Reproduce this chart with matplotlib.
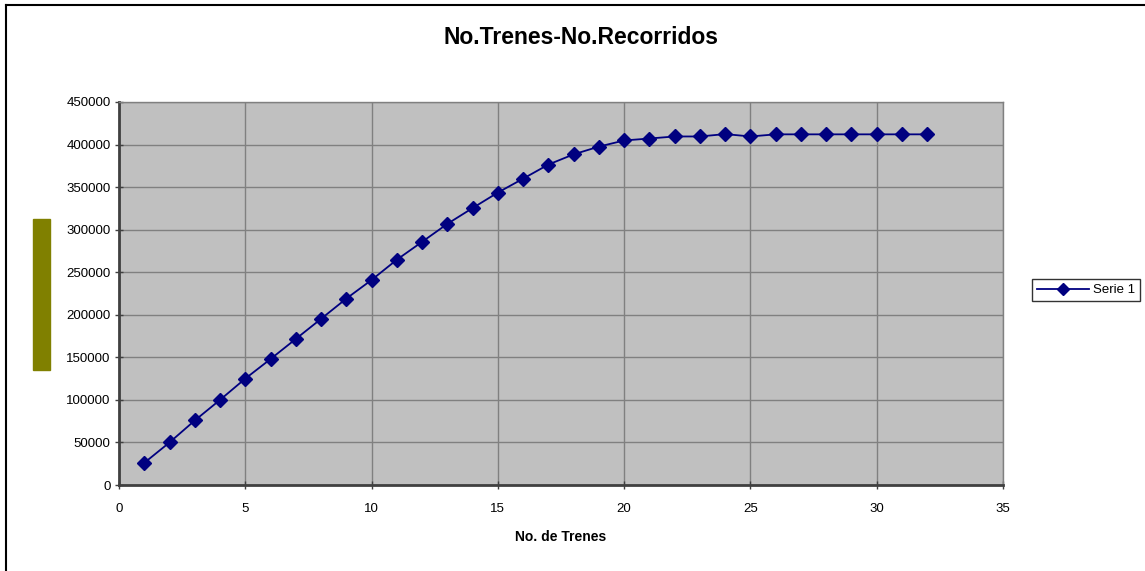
import matplotlib.pyplot as plt
from matplotlib.patches import Rectangle
from matplotlib.lines import Line2D

plt.rcParams['font.family'] = ['Liberation Sans', 'DejaVu Sans']

trenes = list(range(1, 33))
recorridos = [26000, 50000, 75800, 100000, 125000, 148000, 171600, 195200,
              219000, 240900, 264700, 285700, 306800, 325400, 343600, 359900,
              376500, 388500, 397600, 404800, 407100, 409500, 409500, 412300,
              409500, 412000, 412000, 412000, 412000, 412000, 412000, 412000]

fig = plt.figure(figsize=(11.45, 5.71), dpi=100)
ax = fig.add_axes([119 / 1145, 1 - 485 / 571, (1003 - 119) / 1145, (485 - 102) / 571])

ax.set_facecolor('#c0c0c0')
ax.plot(trenes, recorridos, color='#000080', lw=1.3, marker='D', ms=7,
        markerfacecolor='#000080', markeredgecolor='#000080', label='Serie 1',
        zorder=3)

ax.set_xlim(0, 35)
ax.set_ylim(0, 450000)
ax.set_xticks(range(0, 36, 5))
ax.set_yticks(range(0, 450001, 50000))
ax.grid(True, color='#808080', lw=1)
ax.set_axisbelow(True)

for side in ('top', 'right'):
    ax.spines[side].set_color('#808080')
    ax.spines[side].set_linewidth(1)
for side in ('left', 'bottom'):
    ax.spines[side].set_color('#404040')
    ax.spines[side].set_linewidth(2)

ax.tick_params(axis='both', direction='inout', length=6, width=1,
               color='#404040', labelsize=9.5, labelcolor='black')
ax.tick_params(axis='x', pad=10)
ax.tick_params(axis='y', pad=3)

fig.text(581 / 1145, 1 - 37 / 571, 'No.Trenes-No.Recorridos', fontsize=16.5,
         fontweight='bold', ha='center', va='center')
ax.set_xlabel('No. de Trenes', fontsize=10, fontweight='bold', labelpad=11)

# bloque de color junto al eje vertical
fig.patches.append(Rectangle((33 / 1145, 1 - 370 / 571), 17 / 1145, 151 / 571,
                             transform=fig.transFigure, color='#808000'))

# marco exterior del gráfico
fig.lines.append(Line2D([6 / 1145, 6 / 1145], [0, 1 - 5 / 571],
                        transform=fig.transFigure, color='black', lw=1.5))
fig.lines.append(Line2D([6 / 1145, 1], [1 - 5 / 571, 1 - 5 / 571],
                        transform=fig.transFigure, color='black', lw=1.5))

leg = fig.legend(loc='center left', bbox_to_anchor=(1032 / 1145, 1 - 290 / 571),
                 fontsize=9.5, frameon=True, fancybox=False, edgecolor='black',
                 handlelength=4.0, borderpad=0.35, handletextpad=0.3,
                 borderaxespad=0)
leg.get_frame().set_linewidth(1)
for h in leg.legend_handles:
    h.set_markersize(6)

fig.savefig('out.png', dpi=100)
